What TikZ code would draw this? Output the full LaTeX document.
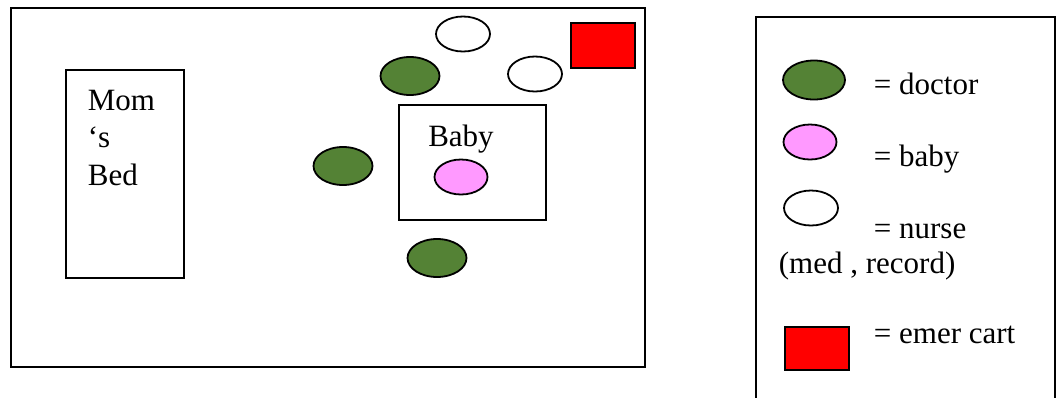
\documentclass[tikz,border=0pt]{standalone}
\usepackage{fontspec}
\setmainfont{Liberation Serif}
\usetikzlibrary{shapes.geometric,positioning}
\definecolor{doctorgreen}{RGB}{84,130,53}
\definecolor{babypink}{RGB}{255,153,255}
\tikzset{
  person/.style={draw,ellipse,line width=1.8pt,inner sep=0pt,minimum width=59pt,minimum height=38pt},
  doctor/.style={person,fill=doctorgreen},
  baby/.style={person,fill=babypink,minimum width=53pt,minimum height=35pt},
  nurse/.style={person,fill=white,minimum width=54pt,minimum height=35pt},
  cart/.style={draw,line width=1.8pt,fill=red,inner sep=0pt,minimum width=64pt,minimum height=45pt},
  roomtext/.style={anchor=base west,inner sep=0pt,font=\fontsize{31}{37}\selectfont}
}

\begin{document}
\begin{tikzpicture}[x=1pt,y=-1pt,line width=1.8pt]
	\useasboundingbox (0,0) rectangle (1064,397);
	% room
	\draw (11,8) rectangle (645,367);
	\draw (66,70) rectangle (184,278);
	\node[roomtext] (mom) at (87,110) {Mom};
	\node[roomtext] (mom2) at (87,147) {‘s};
	\node[roomtext] (bed) at (87,185) {Bed};
	\draw (399,105) rectangle (546,220);
	\node[roomtext,anchor=base] (babytext) at (461,146) {Baby};
	\node[baby] (baby) at (461,177) {};
	\node[doctor] (doc1) at (410,76) {};
	\node[doctor] (doc2) at (343,166) {};
	\node[doctor] (doc3) at (437,258) {};
	\node[nurse] (nurse1) at (463,34) {};
	\node[nurse] (nurse2) at (535,74) {};
	\node[cart] (cart1) at (603,45.5) {};
	% legend
	\draw (756,400) -- (756,17) -- (1055,17) -- (1055,400);
	\node[doctor,minimum width=62pt,minimum height=39pt] (keydoc) at (814,80) {};
	\node[roomtext] (keydoctext) at (873,94) {= doctor};
	\node[baby] (keybaby) at (810,142) {};
	\node[roomtext] (keybabytext) at (873,166) {= baby};
	\node[nurse] (keynurse) at (811,208) {};
	\node[roomtext] (keynursetext) at (873,238) {= nurse};
	\node[roomtext] (keynursetext2) at (778,273) {(med , record)};
	\node[cart,minimum height=43pt] (keycart) at (817,348.5) {};
	\node[roomtext] (keycarttext) at (873,343) {= emer cart};
\end{tikzpicture}
\end{document}
